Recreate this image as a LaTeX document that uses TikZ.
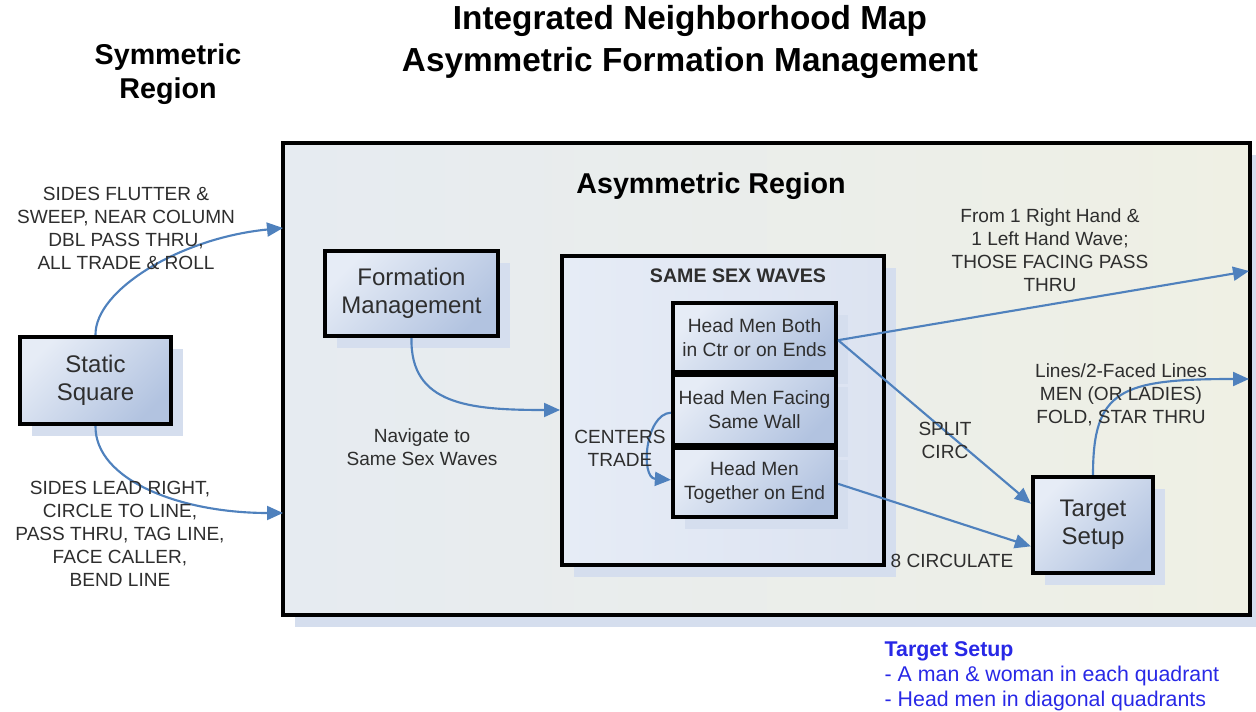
\documentclass[tikz,border=0pt]{standalone}
\usepackage{fontspec}
\setmainfont{Liberation Sans}
\usetikzlibrary{arrows.meta,shadows}

\definecolor{flowblue}{HTML}{4F81BD}
\definecolor{shadowblue}{HTML}{D5DEEE}
\definecolor{boxlight}{HTML}{E6ECF6}
\definecolor{boxdark}{HTML}{B2C3E0}
\definecolor{regionleft}{HTML}{E6EBF1}
\definecolor{regionright}{HTML}{EFF0E4}
\definecolor{wavesleft}{HTML}{E6ECF6}
\definecolor{wavesright}{HTML}{DCE3F1}
\definecolor{labelgray}{HTML}{2E2E2E}
\definecolor{noteblue}{HTML}{2828E6}

\tikzset{
  blockshadow/.style={drop shadow={shadow xshift=9pt, shadow yshift=-9pt, fill=shadowblue, opacity=1}},
  block/.style={draw=black, line width=3.2pt, rectangle, align=center, text=labelgray,
    left color=boxlight, right color=boxdark, shading angle=45, blockshadow},
  boxtext/.style={font=\fontsize{14.4}{18}\selectfont},
  bigtext/.style={font=\fontsize{18}{21}\selectfont},
  lbl/.style={align=center, text=labelgray, font=\fontsize{14.3}{17.25}\selectfont},
  flow/.style={draw=flowblue, line width=1.6pt, -{Triangle[length=12pt,width=10.5pt]}},
  heading/.style={align=center, font=\bfseries\fontsize{21.5}{25.5}\selectfont},
}

\begin{document}
\begin{tikzpicture}[x=0.75pt, y=-0.75pt]
\useasboundingbox (0,0) rectangle (1256,712);

% titles
\node[align=center, font=\bfseries\fontsize{25}{31}\selectfont] (title) at (690,42)
  {Integrated Neighborhood Map\\Asymmetric Formation Management};
\node[heading] (symreg) at (168,74) {Symmetric\\Region};

% asymmetric region frame
\node[draw=black, line width=3.2pt, left color=regionleft, right color=regionright,
  blockshadow, minimum width=725.25pt, minimum height=354pt] (asym) at (766.5,379) {};
\node[heading, anchor=center] (asymtitle) at (711,186) {Asymmetric Region};

% same sex waves container
\node[draw=black, line width=3.2pt, left color=wavesleft, right color=wavesright,
  blockshadow, minimum width=241.5pt, minimum height=231.75pt] (waves) at (723,410.5) {};
\node[font=\bfseries\fontsize{14.7}{16}\selectfont, text=labelgray] (wavestitle) at (738,276) {SAME SEX WAVES};

% blocks
\node[block, bigtext, minimum width=113.25pt, minimum height=65.25pt] (static) at (95.5,380.5) {Static\\Square};
\node[block, bigtext, minimum width=129.75pt, minimum height=63.75pt] (formation) at (411.5,293.5) {Formation\\Management};
\node[block, boxtext, minimum width=122.25pt, minimum height=51.75pt] (both) at (754.5,337.5) {Head Men Both\\in Ctr or on Ends};
\node[block, boxtext, minimum width=122.25pt, minimum height=52.5pt] (facing) at (754.5,410) {Head Men Facing\\Same Wall};
\node[block, boxtext, minimum width=122.25pt, minimum height=51.75pt] (together) at (754.5,482.5) {Head Men\\Together on End};
\node[block, bigtext, minimum width=90pt, minimum height=72pt] (target) at (1093,525) {Target\\Setup};

% connector end points on the region frame
\coordinate (inTop) at (283,228);
\coordinate (inBot) at (283,513);
\coordinate (outWave) at (1249,271);
\coordinate (outLines) at (1249,379);
\coordinate (wavesIn) at (560,410);

% connectors
\draw[flow] (static.north) .. controls (95,290) and (180,238) .. (inTop);
\draw[flow] (static.south) .. controls (95,480) and (180,513) .. (inBot);
\draw[flow] (formation.south) .. controls (410,405) and (470,410) .. (wavesIn);
\draw[flow] ([yshift=-2pt]facing.west) .. controls (645,414) and (640,478) .. ([yshift=2pt]together.west);
\draw[flow] ([yshift=-2pt]both.east) -- (outWave);
\draw[flow] ([yshift=-2pt]both.east) -- ([yshift=16pt]target.west);
\draw[flow] ([yshift=-1pt]together.east) -- ([yshift=-16pt]target.west);
\draw[flow] (target.north) .. controls (1093,390) and (1120,379) .. (outLines);

% labels
\node[lbl] (lflutter) at (126,228) {SIDES FLUTTER \&\\SWEEP, NEAR COLUMN\\DBL PASS THRU,\\ALL TRADE \& ROLL};
\node[lbl] (llead) at (120,534) {SIDES LEAD RIGHT,\\CIRCLE TO LINE,\\PASS THRU, TAG LINE,\\FACE CALLER,\\BEND LINE};
\node[lbl] (lnav) at (422,447) {Navigate to\\Same Sex Waves};
\node[lbl] (ltrade) at (620,448) {CENTERS\\TRADE};
\node[lbl] (lfrom) at (1050,250) {From 1 Right Hand \&\\1 Left Hand Wave;\\THOSE FACING PASS\\THRU};
\node[lbl] (lsplit) at (945,440) {SPLIT\\CIRC};
\node[lbl] (lfold) at (1121,395) {Lines/2-Faced Lines\\MEN (OR LADIES)\\FOLD, STAR THRU};
\node[lbl] (lcirc) at (952,561) {8 CIRCULATE};

% target setup note
\node[align=left, anchor=north west, text=noteblue, font=\fontsize{16}{18.8}\selectfont] (note) at (880,637)
  {\textbf{Target Setup}\\- A man \& woman in each quadrant\\- Head men in diagonal quadrants};
\end{tikzpicture}
\end{document}
